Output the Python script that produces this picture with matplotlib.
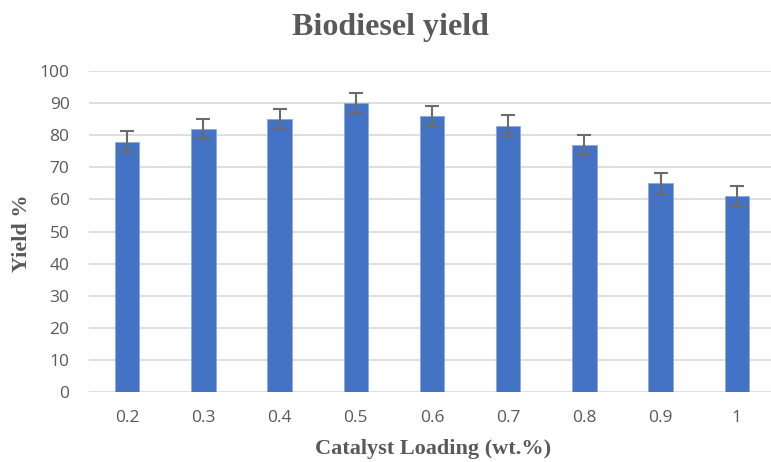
import matplotlib
matplotlib.use("Agg")
import matplotlib.pyplot as plt

loadings = ["0.2", "0.3", "0.4", "0.5", "0.6", "0.7", "0.8", "0.9", "1"]
yield_pct = [78, 82, 85, 90, 86, 83, 77, 65, 61]
yield_err = [3.2, 3.2, 3.2, 3.2, 3.2, 3.2, 3.2, 3.2, 3.2]
y_ticks = [0, 10, 20, 30, 40, 50, 60, 70, 80, 90, 100]

W, H = 771, 462
fig = plt.figure(figsize=(W / 100, H / 100), dpi=100)
ax = fig.add_axes([89 / W, 70 / H, 686 / W, 321 / H])

text_gray = "#595959"
x = range(len(loadings))
ax.bar(x, yield_pct, width=0.32, color="#4472C4", edgecolor="#8faadc",
       linewidth=0.6, zorder=3)
ax.errorbar(x, yield_pct, yerr=yield_err, fmt="none", ecolor="#6b6b6b",
            elinewidth=1.5, capsize=5, capthick=1.5, zorder=4)

ax.set_xlim(-0.5, len(loadings) - 0.5)
ax.set_ylim(0, 100)
ax.set_yticks(y_ticks)
ax.set_xticks(list(x))
ax.set_xticklabels(loadings)
ax.yaxis.grid(True, color="#d9d9d9", linewidth=1.2, zorder=0)
ax.set_axisbelow(True)
for s in ax.spines.values():
    s.set_visible(False)
ax.tick_params(axis="both", length=0, labelsize=12.5, colors=text_gray,
               labelfontfamily="Open Sans")
ax.tick_params(axis="x", pad=13)
ax.tick_params(axis="y", pad=14)

fig.text(390 / W, 1 - 28 / H, "Biodiesel yield", ha="center", va="center",
         fontsize=23, fontweight="bold", family="Liberation Serif",
         color=text_gray)
fig.text(433 / W, 1 - 449 / H, "Catalyst Loading (wt.%)", ha="center",
         va="center", fontsize=16, fontweight="bold",
         family="Liberation Serif", color=text_gray)
fig.text(22 / W, 1 - 233 / H, "Yield %", ha="center", va="center",
         rotation=90, fontsize=16, fontweight="bold",
         family="Liberation Serif", color=text_gray)

fig.savefig("out.png", dpi=100)
